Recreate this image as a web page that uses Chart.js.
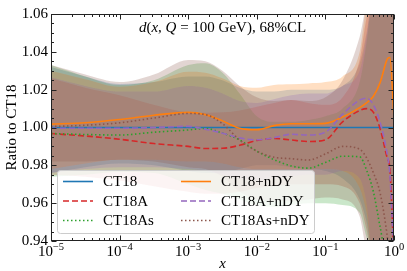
<!DOCTYPE html>
<html>
<head>
<meta charset="utf-8">
<script src="https://cdn.jsdelivr.net/npm/chart.js@4.4.0/dist/chart.umd.min.js"></script>
<style>
html, body { margin: 0; padding: 0; background: #fff; }
#wrap { width: 407px; height: 271px; }
</style>
</head>
<body>
<div id="wrap"><canvas id="ratioChart"></canvas></div>
<script>
// x grid, log spaced
var xs = [1e-5, 3.16e-5, 1e-4, 3.16e-4, 1e-3, 1.78e-3, 3.16e-3, 5.62e-3, 1e-2, 1.78e-2, 3.16e-2, 5.62e-2, 0.1, 0.178, 0.316, 0.398, 0.501, 0.631, 0.794, 0.871, 1.0];
var xTicks = [1e-5, 1e-4, 1e-3, 1e-2, 1e-1, 1];
var xTickExp = ['\u22125', '\u22124', '\u22123', '\u22122', '\u22121', '0'];

// central values
var ct18Mid = [1, 1, 1, 1, 1, 1, 1, 1, 1, 1, 1, 1, 1, 1, 1, 1, 1, 1, 1, 1, 1];
var ct18AMid = [0.9968, 0.9955, 0.9938, 0.9915, 0.9900, 0.9889, 0.9890, 0.9906, 0.9932, 0.9942, 0.9934, 0.9926, 0.9935, 1.0030, 1.0090, 1.0100, 1.0080, 0.9990, 0.9840, 0.9780, 0.930];
var ct18AsMid = [0.9968, 0.9963, 0.9960, 0.9975, 0.9987, 0.9995, 0.9970, 0.9934, 0.9875, 0.9830, 0.9797, 0.9785, 0.9815, 0.9848, 0.9845, 0.9775, 0.9660, 0.9470, 0.930, 0.930, 0.930];
var ct18nMid = [1.0018, 1.0025, 1.0042, 1.0065, 1.0080, 1.0068, 1.0035, 0.9996, 0.9988, 1.0010, 1.0020, 1.0020, 1.0022, 1.0055, 1.0105, 1.0130, 1.0165, 1.0240, 1.0360, 1.0370, 1.0050];
var ct18AnMid = [0.9996, 0.9996, 0.9996, 1.0000, 1.0006, 0.9991, 0.9970, 0.9945, 0.9935, 0.9946, 0.9964, 0.9960, 0.9975, 1.0070, 1.0145, 1.0155, 1.0120, 1.0024, 0.9860, 0.9750, 0.930];
var ct18AsnMid = [1.0005, 1.0012, 1.0025, 1.0050, 1.0074, 1.0068, 1.0020, 0.9934, 0.9875, 0.9843, 0.9835, 0.9828, 0.9860, 0.9900, 0.9885, 0.9840, 0.9760, 0.9650, 0.9430, 0.930, 0.930];

// 68% CL band edges (values past the frame are kept just outside it)
var ct18Up = [1.032, 1.027, 1.023, 1.024, 1.027, 1.027, 1.025, 1.021, 1.019, 1.019, 1.020, 1.020, 1.020, 1.022, 1.034, 1.050, 1.07, 1.07, 1.07, 1.07, 1.07];
var ct18Lo = [0.976, 0.979, 0.981, 0.980, 0.977, 0.976, 0.976, 0.978, 0.980, 0.980, 0.979, 0.978, 0.977, 0.973, 0.962, 0.950, 0.93, 0.93, 0.93, 0.93, 0.93];
var ct18AUp = [1.026, 1.021, 1.017, 1.012, 1.008, 1.0078, 1.008, 1.009, 1.011, 1.013, 1.0145, 1.013, 1.012, 1.016, 1.036, 1.058, 1.07, 1.07, 1.07, 1.07, 1.07];
var ct18ALo = [0.975, 0.974, 0.972, 0.969, 0.966, 0.965, 0.965, 0.966, 0.968, 0.969, 0.970, 0.970, 0.970, 0.969, 0.960, 0.946, 0.93, 0.93, 0.93, 0.93, 0.93];
var ct18AsUp = [1.033, 1.027, 1.0225, 1.025, 1.033, 1.034, 1.029, 1.018, 1.006, 1.003, 1.003, 1.004, 1.006, 1.010, 1.024, 1.045, 1.07, 1.07, 1.07, 1.07, 1.07];
var ct18AsLo = [0.974, 0.975, 0.9765, 0.976, 0.970, 0.967, 0.965, 0.962, 0.959, 0.958, 0.959, 0.960, 0.960, 0.959, 0.955, 0.942, 0.93, 0.93, 0.93, 0.93, 0.93];
var ct18nUp = [1.030, 1.0255, 1.0215, 1.024, 1.0295, 1.029, 1.026, 1.022, 1.021, 1.0225, 1.0228, 1.0233, 1.024, 1.027, 1.040, 1.065, 1.07, 1.07, 1.07, 1.07, 1.07];
var ct18nLo = [0.978, 0.981, 0.983, 0.983, 0.982, 0.982, 0.981, 0.979, 0.978, 0.978, 0.978, 0.978, 0.978, 0.977, 0.968, 0.955, 0.93, 0.93, 0.93, 0.93, 0.93];
var ct18AnUp = [1.0265, 1.022, 1.019, 1.019, 1.022, 1.021, 1.018, 1.014, 1.013, 1.015, 1.017, 1.018, 1.018, 1.022, 1.030, 1.048, 1.07, 1.07, 1.07, 1.07, 1.07];
var ct18AnLo = [0.976, 0.978, 0.979, 0.979, 0.978, 0.977, 0.975, 0.973, 0.972, 0.973, 0.974, 0.975, 0.975, 0.977, 0.973, 0.960, 0.93, 0.93, 0.93, 0.93, 0.93];
var ct18AsnUp = [1.033, 1.028, 1.024, 1.028, 1.0357, 1.035, 1.030, 1.022, 1.016, 1.014, 1.0145, 1.014, 1.016, 1.025, 1.048, 1.065, 1.07, 1.07, 1.07, 1.07, 1.07];
var ct18AsnLo = [0.982, 0.982, 0.983, 0.982, 0.979, 0.978, 0.974, 0.966, 0.962, 0.961, 0.961, 0.962, 0.963, 0.962, 0.953, 0.935, 0.93, 0.93, 0.93, 0.93, 0.93];

var serif = "'Liberation Serif', 'DejaVu Serif', serif";

// matplotlib order
var series = [
    { label: 'CT18', rgb: '31,119,180', dash: [], mid: ct18Mid, up: ct18Up, lo: ct18Lo },
    { label: 'CT18A', rgb: '214,39,40', dash: [6, 3], mid: ct18AMid, up: ct18AUp, lo: ct18ALo },
    { label: 'CT18As', rgb: '44,160,44', dash: [1.5, 2.5], mid: ct18AsMid, up: ct18AsUp, lo: ct18AsLo },
    { label: 'CT18+nDY', rgb: '255,127,14', dash: [], mid: ct18nMid, up: ct18nUp, lo: ct18nLo },
    { label: 'CT18A+nDY', rgb: '148,103,189', dash: [6, 3], mid: ct18AnMid, up: ct18AnUp, lo: ct18AnLo },
    { label: 'CT18As+nDY', rgb: '140,86,75', dash: [1.5, 2.5], mid: ct18AsnMid, up: ct18AsnUp, lo: ct18AsnLo }
];

function pts(arr) {
    return xs.map(function (x, i) { return { x: x, y: arr[i] }; });
}

// index 0 is drawn last (on top), so build in reverse
var datasets = [];
series.slice().reverse().forEach(function (s) {
    datasets.push({
        label: s.label, data: pts(s.mid), borderColor: 'rgb(' + s.rgb + ')',
        borderWidth: 1.6, borderDash: s.dash, pointRadius: 0, fill: false,
        cubicInterpolationMode: 'monotone'
    });
});
series.slice().reverse().forEach(function (s) {
    datasets.push({
        data: pts(s.up), borderWidth: 0, pointRadius: 0, fill: '+1',
        backgroundColor: 'rgba(' + s.rgb + ',0.25)', cubicInterpolationMode: 'monotone'
    });
    datasets.push({
        data: pts(s.lo), borderWidth: 0, pointRadius: 0, fill: false,
        cubicInterpolationMode: 'monotone'
    });
});

// frame, inward ticks, x labels, title and legend
var decor = {
    id: 'decor',
    afterDraw: function (chart) {
        var ctx = chart.ctx, ca = chart.chartArea;
        var xs_ = chart.scales.x, ys_ = chart.scales.y;
        var L = Math.round(ca.left) + 0.5, R = Math.round(ca.right) - 0.5;
        var T = Math.round(ca.top) + 0.5, B = Math.round(ca.bottom) - 0.5;
        ctx.save();
        ctx.strokeStyle = '#222';
        ctx.lineWidth = 1;
        ctx.setLineDash([]);
        ctx.strokeRect(L, T, R - L, B - T);

        // y ticks
        for (var k = 0; k <= 24; k++) {
            var v = 0.94 + k * 0.005;
            var py = Math.round(ys_.getPixelForValue(v)) + 0.5;
            var len = (k % 4 === 0) ? 5 : 2.5;
            ctx.beginPath();
            ctx.moveTo(L, py); ctx.lineTo(L + len, py);
            ctx.moveTo(R, py); ctx.lineTo(R - len, py);
            ctx.stroke();
        }
        // x ticks
        for (var d = -5; d <= 0; d++) {
            for (var m = 1; m <= 9; m++) {
                if (d === 0 && m > 1) break;
                var xv = m * Math.pow(10, d);
                var px = Math.round(xs_.getPixelForValue(xv)) + 0.5;
                var l2 = (m === 1) ? 5 : 2.5;
                ctx.beginPath();
                ctx.moveTo(px, B); ctx.lineTo(px, B - l2);
                ctx.moveTo(px, T); ctx.lineTo(px, T + l2);
                ctx.stroke();
            }
        }

        // x tick labels 10^n
        ctx.fillStyle = '#000';
        ctx.textBaseline = 'alphabetic';
        xTicks.forEach(function (xv, i) {
            var px = xs_.getPixelForValue(xv);
            ctx.font = '15px ' + serif;
            var w1 = ctx.measureText('10').width;
            ctx.font = '10.5px ' + serif;
            var w2 = ctx.measureText(xTickExp[i]).width;
            var x0 = px - (w1 + w2) / 2;
            ctx.font = '15px ' + serif;
            ctx.textAlign = 'left';
            ctx.fillText('10', x0, ca.bottom + 15);
            ctx.font = '10.5px ' + serif;
            ctx.fillText(xTickExp[i], x0 + w1, ca.bottom + 9);
        });

        // title in the plot
        var parts = [['d', 'italic '], ['(', ''], ['x', 'italic '], [', ', ''], ['Q', 'italic '], [' = 100 GeV), 68%CL', '']];
        var tw = 0;
        parts.forEach(function (p) { ctx.font = p[1] + '15px ' + serif; tw += ctx.measureText(p[0]).width; });
        var tx = (ca.left + ca.right) / 2 - tw / 2;
        parts.forEach(function (p) {
            ctx.font = p[1] + '15px ' + serif;
            ctx.fillText(p[0], tx, ca.top + 18);
            tx += ctx.measureText(p[0]).width;
        });

        // legend box
        var bx = 57.5, by = 170.5, bw = 257, bh = 63, r = 3;
        ctx.beginPath();
        ctx.moveTo(bx + r, by);
        ctx.arcTo(bx + bw, by, bx + bw, by + bh, r);
        ctx.arcTo(bx + bw, by + bh, bx, by + bh, r);
        ctx.arcTo(bx, by + bh, bx, by, r);
        ctx.arcTo(bx, by, bx + bw, by, r);
        ctx.closePath();
        ctx.fillStyle = 'rgba(255,255,255,0.8)';
        ctx.fill();
        ctx.strokeStyle = '#cccccc';
        ctx.stroke();

        var rowsY = [181.5, 201, 220.5];
        var colX = [63, 181];
        ctx.font = '15px ' + serif;
        ctx.textBaseline = 'middle';
        series.forEach(function (s, i) {
            var c = Math.floor(i / 3), rr = i % 3;
            var yy = rowsY[rr], x0 = colX[c];
            ctx.strokeStyle = 'rgb(' + s.rgb + ')';
            ctx.lineWidth = 1.6;
            ctx.setLineDash(s.dash);
            ctx.beginPath();
            ctx.moveTo(x0, yy); ctx.lineTo(x0 + 30, yy);
            ctx.stroke();
            ctx.fillStyle = '#000';
            ctx.fillText(s.label, x0 + 40, yy + 1);
        });
        ctx.restore();
    }
};

var ctx = document.getElementById('ratioChart').getContext('2d');
var ratioChart = new Chart(ctx, {
    type: 'line',
    data: { datasets: datasets },
    options: {
        responsive: true,
        maintainAspectRatio: false,
        animation: false,
        layout: { padding: { left: 0, right: 13, top: 14, bottom: 0 } },
        elements: { line: { capBezierPoints: false } },
        plugins: {
            legend: { display: false },
            tooltip: { enabled: false },
            filler: { propagate: false }
        },
        scales: {
            x: {
                type: 'logarithmic',
                min: 1e-5,
                max: 1,
                grid: { display: false, drawTicks: false },
                border: { display: false },
                ticks: { display: false },
                title: {
                    display: true, text: 'x', color: '#000',
                    font: { family: serif, size: 15, style: 'italic', lineHeight: 1 },
                    padding: { top: 0, bottom: -1 }
                },
                afterFit: function (s) { s.height = 30; }
            },
            y: {
                type: 'linear',
                min: 0.94,
                max: 1.06,
                grid: { display: false, drawTicks: false },
                border: { display: false },
                ticks: {
                    stepSize: 0.02,
                    color: '#000',
                    padding: 3,
                    font: { family: serif, size: 15 },
                    callback: function (v) { return v.toFixed(2); }
                },
                title: {
                    display: true, text: 'Ratio to CT18', color: '#000',
                    font: { family: serif, size: 15 },
                    padding: { top: 3, bottom: 0 }
                },
                afterFit: function (s) { s.width = 51; }
            }
        }
    },
    plugins: [decor]
});
</script>
</body>
</html>
